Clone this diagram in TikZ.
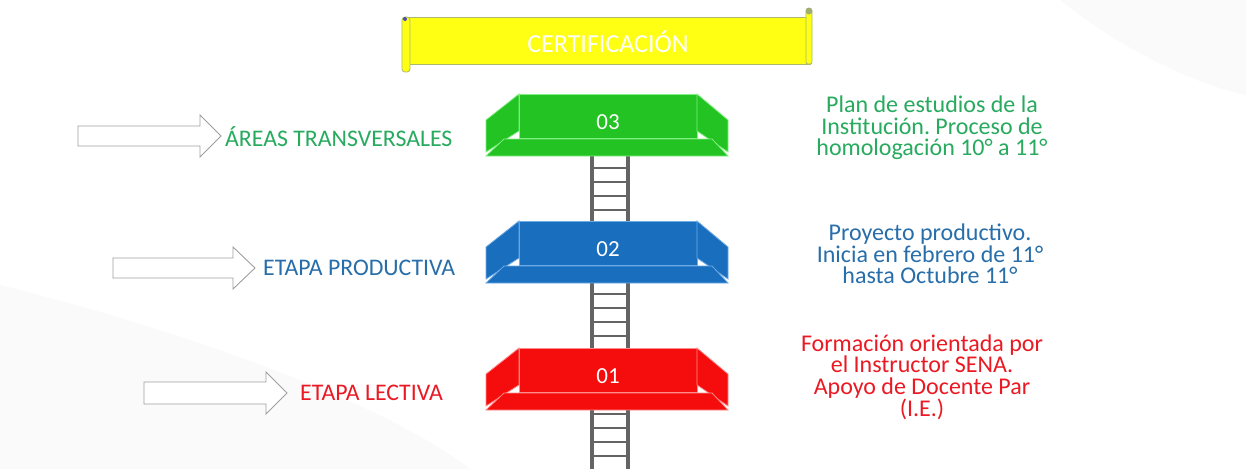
\documentclass[tikz,border=0pt]{standalone}
\usepackage{fontspec}
\setmainfont{Carlito}
\definecolor{pgreen}{RGB}{34,195,34}
\definecolor{pgreenl}{RGB}{130,240,130}
\definecolor{pblue}{RGB}{25,110,190}
\definecolor{pbluel}{RGB}{110,170,230}
\definecolor{pred}{RGB}{245,12,12}
\definecolor{predl}{RGB}{255,140,140}
\definecolor{tgreen}{RGB}{40,170,95}
\definecolor{tblue}{RGB}{40,110,170}
\definecolor{tred}{RGB}{235,25,35}
\definecolor{railgray}{RGB}{100,100,100}
\definecolor{banyel}{RGB}{255,255,20}
\definecolor{banedge}{RGB}{170,185,110}
\frenchspacing
\begin{document}
\begin{tikzpicture}[x=1pt,y=-1pt,
  lbl/.style={font=\fontsize{23.8}{26}\selectfont, anchor=west, inner sep=0pt},
  desc/.style={font=\fontsize{24}{21.7}\selectfont, align=center, inner sep=0pt},
  num/.style={font=\fontsize{23}{26}\selectfont, text=white, inner sep=0pt},
  barrow/.style={draw=gray!75, fill=white, line width=0.9pt, line join=miter},
  rail/.style={fill=railgray, draw=none},
  rung/.style={draw=railgray, line width=2.2pt},
]
\useasboundingbox (0,0) rectangle (1246,469);
\fill[white] (0,0) rectangle (1246,469);
% faint background swooshes
\fill[gray!4] (0,285) .. controls (180,330) and (380,400) .. (470,469) -- (0,469) -- cycle;
\fill[gray!4] (1060,0) .. controls (1110,40) and (1180,80) .. (1246,95) -- (1246,0) -- cycle;

% banner
\draw[banedge, fill=banyel, line width=0.8pt] (406,17) rectangle (810,64);
\draw[banedge, fill=banyel, line width=0.8pt, rounded corners=2pt] (806,10) rectangle (812,64);
\fill[banedge!80!gray] (809,11) circle (3.5);
\draw[banedge, fill=banyel, line width=0.8pt, rounded corners=3pt] (402,17) rectangle (410,72);
\fill[blue!40!gray] (405,19) circle (2);
\node[font=\fontsize{26}{28}\selectfont, text=white, inner sep=0pt] (cert) at (608,42) {CERTIFICACIÓN};

% ladder
\foreach \ya/\yb in {150/222, 276/349, 395/469} {
  \fill[rail] (590,\ya) rectangle (594,\yb);
  \fill[rail] (626,\ya) rectangle (630,\yb);
}
\foreach \yr in {168,182,196,210, 294,308,322,336, 414,428,442,456}
  \draw[rung] (592,\yr) -- (628,\yr);

% platforms
\newcommand\myplatform[4]{%
  \begin{scope}[shift={(0,#1)}]
    \draw[fill=#2, draw=#3, line width=0.8pt] (519,0) rectangle (697,44);
    \draw[fill=#2, draw=#3, line width=0.8pt] (486,26) -- (519,0) -- (519,37) -- (486,58) -- cycle;
    \draw[fill=#2, draw=#3, line width=0.8pt] (728,26) -- (697,0) -- (697,37) -- (728,58) -- cycle;
    \draw[fill=#2, draw=#3, line width=0.8pt] (486,62) -- (504,45) -- (712,45) -- (728,62) -- cycle;
    \node[num] (#4) at (608,28) {#4};
  \end{scope}}
\myplatform{94}{pgreen}{pgreenl}{03}
\myplatform{221}{pblue}{pbluel}{02}
\myplatform{348}{pred}{predl}{01}

% left arrows
\draw[barrow] (78,126) -- (200,126) -- (200,115) -- (221,136) -- (200,157) -- (200,146) -- (78,146) -- cycle;
\draw[barrow] (113,258) -- (233,258) -- (233,247) -- (255,268) -- (233,289) -- (233,278) -- (113,278) -- cycle;
\draw[barrow] (144,382) -- (266,382) -- (266,372) -- (287,393) -- (266,414) -- (266,404) -- (144,404) -- cycle;

\node[lbl, text=tgreen] (l3) at (225,137) {ÁREAS TRANSVERSALES};
\node[lbl, text=tblue] (l2) at (263,268) {ETAPA PRODUCTIVA};
\node[lbl, text=tred] (l1) at (300,393) {ETAPA LECTIVA};

% right descriptions
\node[desc, text=tgreen] (d3) at (932,128) {Plan de estudios de la\\Institución. Proceso de\\homologación 10° a 11°};
\node[desc, text=tblue] (d2) at (930,254) {Proyecto productivo.\\Inicia en febrero de 11°\\hasta Octubre 11°};
\node[desc, text=tred] (d1) at (922,377) {Formación orientada por\\el Instructor SENA.\\Apoyo de Docente Par\\(I.E.)};
\end{tikzpicture}
\end{document}
